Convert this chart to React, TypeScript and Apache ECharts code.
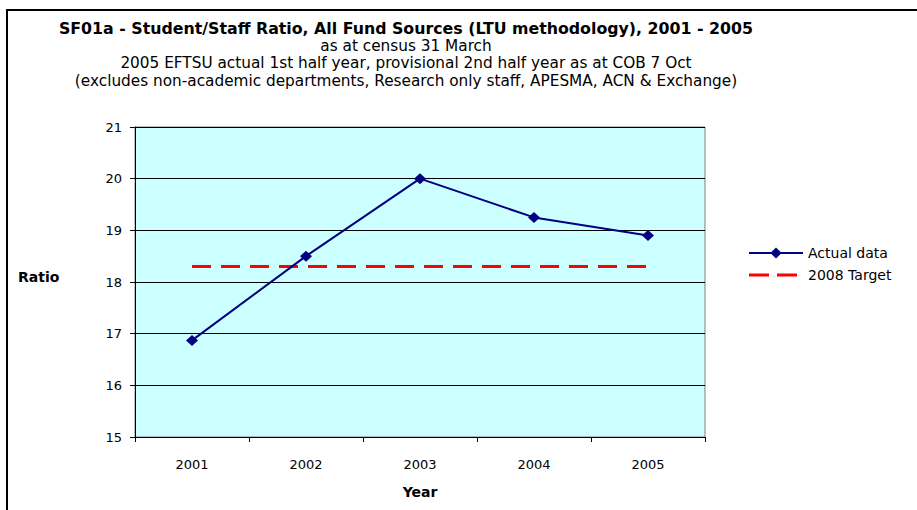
import React, { useEffect, useRef } from "react";
import * as echarts from "echarts";

const categories = ["2001", "2002", "2003", "2004", "2005"];
const actualData = [16.87, 18.5, 20.0, 19.25, 18.9];
const targetData = [18.3, 18.3, 18.3, 18.3, 18.3];
const yMin = 15;
const yMax = 21;
const yInterval = 1;

const titleText = "SF01a - Student/Staff Ratio, All Fund Sources (LTU methodology), 2001 - 2005";
const subtitleLines = [
  "as at census 31 March",
  "2005 EFTSU actual 1st half year, provisional 2nd half year as at COB 7 Oct",
  "(excludes non-academic departments, Research only staff, APESMA, ACN & Exchange)",
];
const seriesNames = ["Actual data", "2008 Target"];
const xName = "Year";
const yName = "Ratio";

const FONT = "'DejaVu Sans', 'Liberation Sans', Arial, sans-serif";
const DASH_ICON =
  "path://M0,0h0.01v0.01h-0.01z M53.99,13.99h0.01v0.01h-0.01z M0,5.5h20v3h-20z M28,5.5h20v3h-20z";

export default function App() {
  const ref = useRef<HTMLDivElement>(null);
  useEffect(() => {
    if (!ref.current) return;
    const chart = echarts.init(ref.current, undefined, { renderer: "svg" });
    chart.setOption({
      animation: false,
      backgroundColor: "#ffffff",
      textStyle: { fontFamily: FONT },
      title: [
        {
          text: titleText,
          left: 401,
          top: 15,
          textAlign: "center",
          textStyle: { fontFamily: FONT, fontSize: 15.8, fontWeight: "bold", color: "#000", lineHeight: 16 },
        },
        {
          text: subtitleLines.join("\n"),
          left: 401,
          top: 32,
          textAlign: "center",
          textStyle: { fontFamily: FONT, fontSize: 15.3, fontWeight: "normal", color: "#000", lineHeight: 17.5 },
        },
      ],
      graphic: [
        {
          type: "rect",
          shape: { x: 7, y: 10, width: 1000, height: 700 },
          style: { fill: "transparent", stroke: "#000", lineWidth: 2 },
          silent: true,
        },
        {
          type: "text",
          left: 18,
          top: 270,
          style: { text: yName, fontFamily: FONT, fontSize: 14, fontWeight: "bold", fill: "#000" },
        },
      ],
      legend: {
        orient: "vertical",
        left: 743,
        top: 241,
        itemWidth: 54,
        itemHeight: 14,
        itemGap: 8,
        textStyle: { fontFamily: FONT, fontSize: 14, color: "#000" },
        data: [
          { name: seriesNames[0] },
          { name: seriesNames[1], icon: DASH_ICON, itemStyle: { color: "#FF0000" } },
        ],
      },
      grid: {
        left: 135,
        right: 212,
        top: 127,
        bottom: 73,
        show: true,
        backgroundColor: "#CCFFFF",
        borderColor: "#808080",
        borderWidth: 1,
        containLabel: false,
      },
      xAxis: {
        type: "category",
        data: categories,
        boundaryGap: true,
        name: xName,
        nameLocation: "middle",
        nameGap: 48,
        nameTextStyle: { fontFamily: FONT, fontSize: 14, fontWeight: "bold", color: "#000" },
        axisLine: { show: true, lineStyle: { color: "#000", width: 1 } },
        axisTick: { show: true, alignWithLabel: false, length: 5, inside: false, lineStyle: { color: "#000" } },
        axisLabel: { fontFamily: FONT, fontSize: 13, color: "#000", margin: 21 },
        splitLine: { show: false },
      },
      yAxis: {
        type: "value",
        min: yMin,
        max: yMax,
        interval: yInterval,
        axisLine: { show: true, lineStyle: { color: "#000", width: 1 } },
        axisTick: { show: true, length: 5, inside: false, lineStyle: { color: "#000" } },
        axisLabel: { fontFamily: FONT, fontSize: 13, color: "#000", margin: 13 },
        splitLine: { show: true, lineStyle: { color: "#000", width: 1 } },
      },
      series: [
        {
          name: seriesNames[0],
          type: "line",
          data: actualData,
          symbol: "diamond",
          symbolSize: [12, 11],
          showSymbol: true,
          color: "#000080",
          itemStyle: { color: "#000080" },
          lineStyle: { color: "#000080", width: 2 },
          z: 3,
        },
        {
          name: seriesNames[1],
          type: "line",
          data: targetData,
          symbol: "none",
          color: "#FF0000",
          lineStyle: { color: "#FF0000", width: 3, type: [19, 10] },
          z: 2,
        },
      ],
    });
    return () => chart.dispose();
  }, []);
  return (
    <div
      ref={ref}
      style={{ position: "absolute", left: 0, top: 0, width: 917, height: 510 }}
    />
  );
}
